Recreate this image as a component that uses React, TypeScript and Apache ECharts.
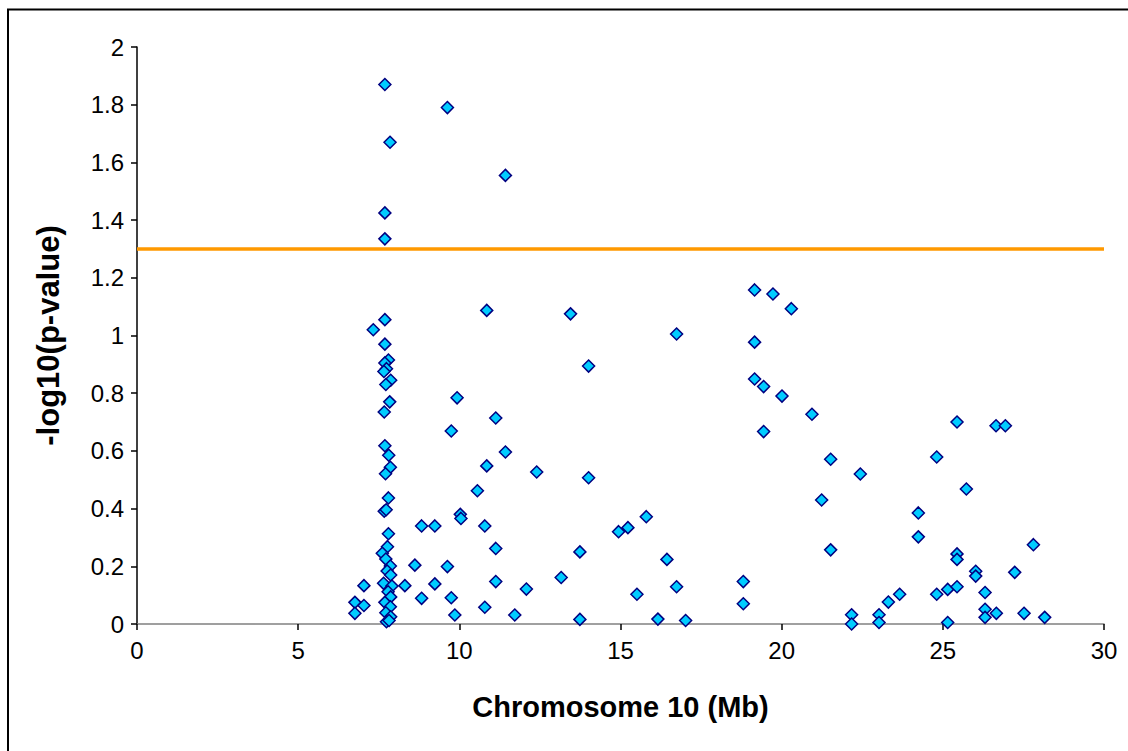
import React, { useEffect, useRef } from "react";
import * as echarts from "echarts";

// Position on chromosome 10 (Mb) and -log10(p-value)
const positionMb: number[] = [
  7.69, 9.63, 7.85, 11.43, 7.69, 7.69,
  7.69, 7.33, 7.69, 7.8, 7.69, 7.74, 7.66, 7.87, 7.72, 7.84, 7.67, 7.69, 7.81, 7.86,
  7.71, 7.8, 7.67, 7.73, 7.8, 7.77, 7.61, 7.72, 7.86, 7.76, 7.87, 7.65, 7.91, 7.79,
  7.87, 7.69, 7.86, 7.72, 7.87, 7.74, 7.82,
  6.76, 6.76, 7.04, 7.04,
  8.31, 8.62, 8.83, 8.83, 9.24, 9.24, 9.63, 9.75, 9.75, 9.86, 9.93, 10.03, 10.05,
  10.56, 10.79, 10.79, 10.85, 10.85, 11.13, 11.13, 11.13, 11.43, 11.72, 12.08, 12.4,
  13.16, 13.45, 13.74, 13.74, 14.01, 14.01, 14.94, 15.23, 15.51, 15.8, 16.16, 16.44,
  16.74, 16.74, 17.02, 18.81, 18.81,
  19.16, 19.73, 20.3, 19.16, 19.16, 19.44, 20.01, 20.94, 19.44, 21.52, 22.44, 21.24, 21.52,
  22.17, 22.17, 23.02, 23.02, 23.31, 23.66, 24.24, 24.24, 24.81, 24.81, 25.15, 25.15,
  25.44, 25.44, 25.44, 25.44, 25.73, 26.02, 26.02, 26.31, 26.31, 26.31, 26.65, 26.66,
  26.94, 27.23, 27.52, 27.81, 28.16,
];

const negLog10P: number[] = [
  1.87, 1.79, 1.67, 1.555, 1.425, 1.335,
  1.055, 1.02, 0.97, 0.915, 0.905, 0.885, 0.875, 0.845, 0.83, 0.77, 0.735, 0.618, 0.585, 0.543,
  0.521, 0.437, 0.391, 0.396, 0.313, 0.268, 0.245, 0.225, 0.201, 0.184, 0.17, 0.141, 0.132, 0.112,
  0.094, 0.075, 0.06, 0.039, 0.025, 0.008, 0.012,
  0.075, 0.037, 0.133, 0.064,
  0.133, 0.204, 0.34, 0.089, 0.34, 0.139, 0.199, 0.669, 0.091, 0.031, 0.784, 0.38, 0.366,
  0.462, 0.34, 0.058, 1.087, 0.548, 0.714, 0.262, 0.147, 0.596, 0.031, 0.121, 0.527,
  0.161, 1.075, 0.25, 0.016, 0.894, 0.507, 0.32, 0.334, 0.103, 0.372, 0.017, 0.224,
  1.005, 0.129, 0.012, 0.147, 0.07,
  1.158, 1.144, 1.093, 0.977, 0.849, 0.823, 0.79, 0.727, 0.667, 0.571, 0.52, 0.43, 0.257,
  0.032, 0.0, 0.032, 0.005, 0.076, 0.103, 0.385, 0.302, 0.579, 0.103, 0.12, 0.005,
  0.7, 0.243, 0.224, 0.129, 0.468, 0.183, 0.166, 0.109, 0.051, 0.023, 0.687, 0.037,
  0.687, 0.179, 0.037, 0.275, 0.023,
];

// Significance threshold (-log10(0.05) ≈ 1.3) spanning the x range
const thresholdValue = 1.3;
const thresholdSpan: number[] = [0, 30];

const xTitle = "Chromosome 10 (Mb)";
const yTitle = "-log10(p-value)";

const FONT = "'Liberation Sans', Arial, Helvetica, sans-serif";

export default function App() {
  const ref = useRef<HTMLDivElement>(null);

  useEffect(() => {
    if (!ref.current) return;
    const chart = echarts.init(ref.current, undefined, { renderer: "svg" });

    const points = positionMb.map((x, i) => [x, negLog10P[i]]);
    const threshold = thresholdSpan.map((x) => [x, thresholdValue]);

    chart.setOption({
      animation: false,
      backgroundColor: "#ffffff",
      textStyle: { fontFamily: FONT },
      graphic: [
        {
          type: "rect",
          shape: { x: 8, y: 9.5, width: 1300, height: 1000 },
          style: { fill: "none", stroke: "#000000", lineWidth: 2 },
          silent: true,
          z: 0,
        },
      ],
      grid: { left: 137, right: 24, top: 47, bottom: 127, containLabel: false },
      xAxis: {
        type: "value",
        min: 0,
        max: 30,
        interval: 5,
        name: xTitle,
        nameLocation: "middle",
        nameGap: 68,
        nameTextStyle: { fontFamily: FONT, fontSize: 29, fontWeight: "bold", color: "#000" },
        axisLine: { onZero: false, lineStyle: { color: "#808080", width: 1.5 } },
        axisTick: { show: true, inside: false, length: 6, lineStyle: { color: "#000", width: 1.5 } },
        axisLabel: { fontFamily: FONT, fontSize: 24, color: "#000", margin: 14 },
        splitLine: { show: false },
      },
      yAxis: {
        type: "value",
        min: 0,
        max: 2,
        interval: 0.2,
        name: yTitle,
        nameLocation: "middle",
        nameGap: 73,
        nameRotate: 90,
        nameTextStyle: { fontFamily: FONT, fontSize: 31, fontWeight: "bold", color: "#000" },
        axisLine: { show: true, lineStyle: { color: "#000", width: 1.5 } },
        axisTick: { show: true, inside: false, length: 6, lineStyle: { color: "#000", width: 1.5 } },
        axisLabel: { fontFamily: FONT, fontSize: 24, color: "#000", margin: 13 },
        splitLine: { show: false },
      },
      series: [
        {
          type: "line",
          data: threshold,
          symbol: "none",
          lineStyle: { color: "#FF9900", width: 3.5 },
          z: 2,
          silent: true,
        },
        {
          type: "scatter",
          data: points,
          symbol: "diamond",
          symbolSize: 12,
          itemStyle: { color: "#00CCFF", borderColor: "#000080", borderWidth: 1.5, opacity: 1 },
          z: 3,
        },
      ],
    });

    return () => chart.dispose();
  }, []);

  return (
    <div
      ref={ref}
      style={{ position: "fixed", left: 0, top: 0, width: 1128, height: 751, background: "#fff" }}
    />
  );
}
